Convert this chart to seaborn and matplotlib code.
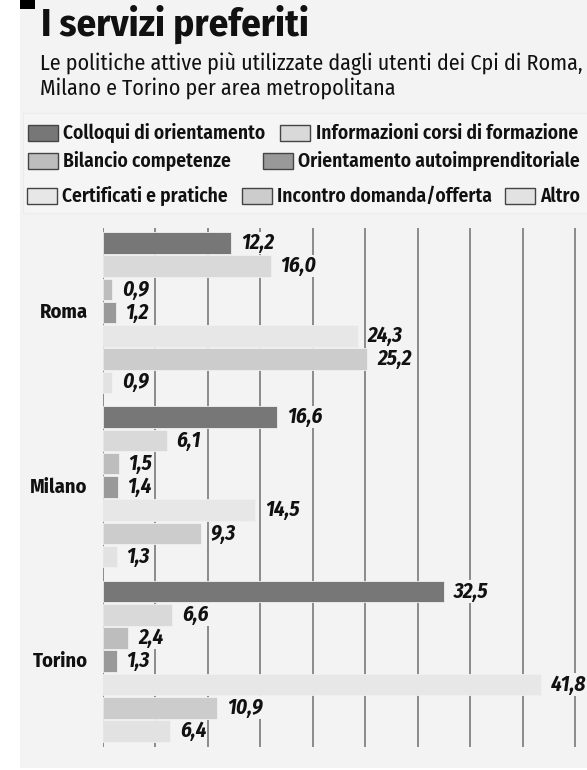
import matplotlib
matplotlib.use("Agg")
import matplotlib.pyplot as plt
from matplotlib.patches import Rectangle
import seaborn as sns
import pandas as pd

# ---- data ----
cities = ["Roma", "Milano", "Torino"]
series = ["Colloqui di orientamento", "Informazioni corsi di formazione",
          "Bilancio competenze", "Orientamento autoimprenditoriale",
          "Certificati e pratiche", "Incontro domanda/offerta", "Altro"]
roma = [12.2, 16.0, 0.9, 1.2, 24.3, 25.2, 0.9]
milano = [16.6, 6.1, 1.5, 1.4, 14.5, 9.3, 1.3]
torino = [32.5, 6.6, 2.4, 1.3, 41.8, 10.9, 6.4]
colors = ["#777777", "#d9d9d9", "#bdbdbd", "#999999", "#e7e7e7", "#cccccc", "#e2e2e2"]
grid_ticks = [0, 5, 10, 15, 20, 25, 30, 35, 40, 45]

title = "I servizi preferiti"
subtitle_lines = ["Le politiche attive più utilizzate dagli utenti dei Cpi di Roma,",
                  "Milano e Torino per area metropolitana"]

BG = "#f3f3f3"
FAM = ["Fira Sans Condensed", "DejaVu Sans"]

sns.set_theme(style="white")
plt.rcParams["font.family"] = FAM
plt.rcParams["font.stretch"] = "condensed"

rows = []
for g, vals in enumerate([roma, milano, torino]):
    for i, v in enumerate(vals):
        rows.append({"city": cities[g], "serie": series[i], "value": v, "pos": g * 7.5 + i})
df = pd.DataFrame(rows)

W, H = 587, 770
fig = plt.figure(figsize=(W / 100, H / 100), dpi=100)
fig.patch.set_facecolor("white")
renderer = fig.canvas.get_renderer()


def fit(texts, ref_text, target_px):
    """Scale the font size of texts so that ref_text spans target_px pixels."""
    w = ref_text.get_window_extent(renderer).width
    k = target_px / w
    for t in texts:
        t.set_fontsize(t.get_fontsize() * k)


def Y(py):
    return 1 - py / H


# background panel
fig.patches.append(Rectangle((20 / W, Y(768)), 1, 768 / H, transform=fig.transFigure,
                             facecolor=BG, edgecolor="none", zorder=-10))
# black marker square
fig.patches.append(Rectangle((20 / W, Y(9)), 15 / W, 9 / H, transform=fig.transFigure,
                             facecolor="black", edgecolor="none", zorder=5))

# title & subtitle
t_title = fig.text(41 / W, Y(36), title, fontsize=24, fontweight="bold", color="#111111",
                   ha="left", va="baseline")
fit([t_title], t_title, 268)
sub = [fig.text(40 / W, Y(70), subtitle_lines[0], fontsize=13, color="#111111",
                ha="left", va="baseline"),
       fig.text(40 / W, Y(95), subtitle_lines[1], fontsize=13, color="#111111",
                ha="left", va="baseline")]
fit(sub, sub[0], 545)

# legend panel (very faint)
fig.patches.append(Rectangle((23 / W, Y(213)), 600 / W, 100 / H, transform=fig.transFigure,
                             facecolor="#f5f5f5", edgecolor="#ececec", linewidth=0.8,
                             zorder=-5))
legend_layout = [  # (series index, box x, text x, y center)
    (0, 28, 63, 133), (1, 280, 316, 133),
    (2, 28, 63, 161), (3, 263, 298, 161),
    (4, 27, 62, 196), (5, 242, 277, 196), (6, 505, 540, 196),
]
leg_texts = []
for si, bx, tx, yc in legend_layout:
    fig.patches.append(Rectangle((bx / W, Y(yc + 8)), 30 / W, 16 / H,
                                 transform=fig.transFigure, facecolor=colors[si],
                                 edgecolor="#444444", linewidth=1.0))
    leg_texts.append(fig.text(tx / W, Y(yc), series[si], fontsize=13, fontweight="semibold",
                              color="#111111", ha="left", va="center"))
fit(leg_texts, leg_texts[3], 283)

# plot area
ax = fig.add_axes([103 / W, Y(747), (W - 103) / W, (747 - 228) / H])
ax.set_facecolor("none")
for x in grid_ticks:
    ax.axvline(x, color="#6e6e6e", lw=1.1, zorder=0)

sns.barplot(data=df, x="value", y="pos", hue="serie", hue_order=series, palette=colors,
            orient="y", native_scale=True, dodge=False, width=0.93, errorbar=None,
            legend=False, ax=ax, edgecolor="#f0f0f0", linewidth=0.6, zorder=2)

val_texts = []
for _, r in df.iterrows():
    val_texts.append(ax.annotate(f"{r['value']:.1f}".replace(".", ","),
                                 xy=(r["value"], r["pos"]), xytext=(7, 0),
                                 textcoords="offset points", ha="left", va="center",
                                 fontsize=13, fontweight="bold", fontstyle="italic",
                                 color="#111111",
                                 bbox=dict(facecolor=BG, edgecolor="none", pad=0.4),
                                 zorder=4, annotation_clip=False))

city_texts = []
for g, c in enumerate(cities):
    city_texts.append(ax.annotate(c, xy=(0, g * 7.5 + 3), xytext=(-11, 0),
                                  textcoords="offset points", ha="right", va="center",
                                  fontsize=14, fontweight="bold", color="#111111",
                                  annotation_clip=False))

ax.set_xlim(0, (W - 103) / 10.49)
ax.set_ylim(21.69, -0.64)
ax.set_xticks([])
ax.set_yticks([])
ax.set_xlabel("")
ax.set_ylabel("")
for s in ax.spines.values():
    s.set_visible(False)

fit(val_texts, val_texts[0], 33.5)
fit(city_texts, city_texts[1], 57)

fig.savefig("out.png", dpi=100, facecolor=fig.get_facecolor())
